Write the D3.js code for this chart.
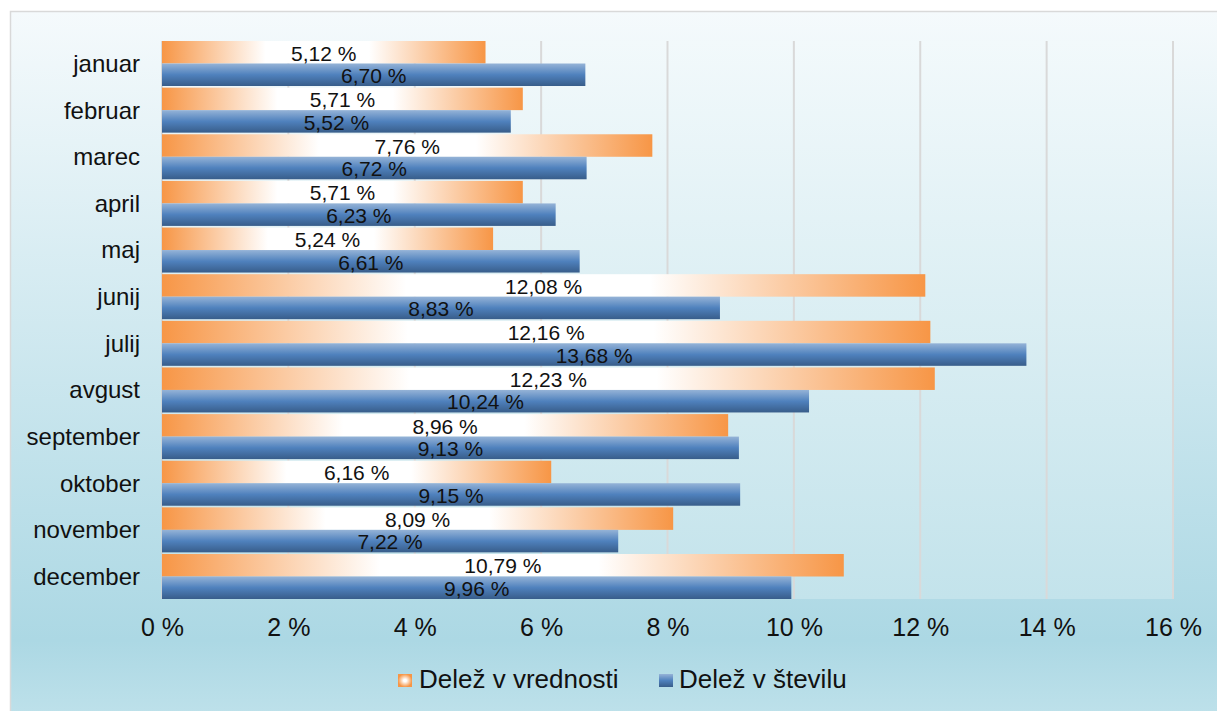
<!DOCTYPE html>
<html>
<head>
<meta charset="utf-8">
<script src="https://cdn.jsdelivr.net/npm/d3@7"></script>
<style>
  html, body { margin: 0; padding: 0; background: #fff; }
  svg { display: block; font-family: "Liberation Sans", Arial, sans-serif; }
</style>
</head>
<body>
<svg id="chart" width="1217" height="711"></svg>
<script>
// months (top to bottom)
const months = ["januar", "februar", "marec", "april", "maj", "junij", "julij",
  "avgust", "september", "oktober", "november", "december"];
// share in value (%)
const valueShare = [5.12, 5.71, 7.76, 5.71, 5.24, 12.08, 12.16, 12.23, 8.96, 6.16, 8.09, 10.79];
// share in count (%)
const countShare = [6.70, 5.52, 6.72, 6.23, 6.61, 8.83, 13.68, 10.24, 9.13, 9.15, 7.22, 9.96];
const ticks = [0, 2, 4, 6, 8, 10, 12, 14, 16];
const seriesNames = ["Delež v vrednosti", "Delež v številu"];

const FONT = "'Liberation Sans', Arial, sans-serif";
const fmt = (v) => v.toFixed(2).replace(".", ",") + " %";

const svg = d3.select("#chart");
const defs = svg.append("defs");

// background gradients
const bg = defs.append("linearGradient").attr("id", "bg")
  .attr("x1", 0).attr("y1", 0).attr("x2", 0).attr("y2", 1);
bg.append("stop").attr("offset", "0%").attr("stop-color", "#f5fafc");
bg.append("stop").attr("offset", "85%").attr("stop-color", "#acd8e4");
bg.append("stop").attr("offset", "100%").attr("stop-color", "#c6e5ed");

const plotBg = defs.append("linearGradient").attr("id", "plotBg")
  .attr("x1", 0).attr("y1", 0).attr("x2", 0).attr("y2", 1);
plotBg.append("stop").attr("offset", "0%").attr("stop-color", "#f2f9fb");
plotBg.append("stop").attr("offset", "100%").attr("stop-color", "#c3e3eb");

// orange: horizontal orange -> white -> orange
const orange = defs.append("linearGradient").attr("id", "orange")
  .attr("x1", 0).attr("y1", 0).attr("x2", 1).attr("y2", 0);
orange.append("stop").attr("offset", "0%").attr("stop-color", "#f79646");
orange.append("stop").attr("offset", "32%").attr("stop-color", "#ffffff");
orange.append("stop").attr("offset", "64%").attr("stop-color", "#ffffff");
orange.append("stop").attr("offset", "100%").attr("stop-color", "#f79646");

// blue: vertical light -> dark
const blue = defs.append("linearGradient").attr("id", "blue")
  .attr("x1", 0).attr("y1", 0).attr("x2", 0).attr("y2", 1);
blue.append("stop").attr("offset", "0%").attr("stop-color", "#95b3d7");
blue.append("stop").attr("offset", "50%").attr("stop-color", "#4f81bd");
blue.append("stop").attr("offset", "100%").attr("stop-color", "#385d8a");

const orangeSwatch = defs.append("radialGradient").attr("id", "orangeSwatch");
orangeSwatch.append("stop").attr("offset", "20%").attr("stop-color", "#ffffff");
orangeSwatch.append("stop").attr("offset", "100%").attr("stop-color", "#f79646");

// chart frame
svg.append("rect")
  .attr("x", 10.5).attr("y", 11.5)
  .attr("width", 1240).attr("height", 740)
  .attr("fill", "url(#bg)")
  .attr("stroke", "#d9d9d9")
  .attr("stroke-width", 1.5);

const margin = { top: 41, left: 162 };
const width = 1173 - 162;
const height = 599 - 41;

const g = svg.append("g")
  .attr("transform", `translate(${margin.left},${margin.top})`);

g.append("rect")
  .attr("width", width).attr("height", height)
  .attr("fill", "url(#plotBg)");

const x = d3.scaleLinear().domain([0, 16]).range([0, width]);
const y = d3.scaleBand().domain(months).range([0, height])
  .paddingInner(0.035).paddingOuter(0.0);
const sub = d3.scaleBand().domain([0, 1]).range([0, y.bandwidth()]);

// gridlines
g.selectAll(".grid")
  .data(ticks.filter((t) => t > 0))
  .enter()
  .append("line")
  .attr("class", "grid")
  .attr("x1", (d) => x(d)).attr("x2", (d) => x(d))
  .attr("y1", 0).attr("y2", height)
  .attr("stroke", "#d9d9d9")
  .attr("stroke-width", 2);

// left axis line
g.append("line")
  .attr("x1", 0).attr("x2", 0).attr("y1", 0).attr("y2", height)
  .attr("stroke", "#d0d0d0").attr("stroke-width", 1.5);

const rows = g.selectAll(".row")
  .data(months)
  .enter()
  .append("g")
  .attr("class", "row")
  .attr("transform", (d) => `translate(0,${y(d)})`);

rows.append("rect")
  .attr("x", 0)
  .attr("y", sub(0))
  .attr("width", (d, i) => x(valueShare[i]))
  .attr("height", sub.bandwidth())
  .attr("fill", "url(#orange)");

rows.append("rect")
  .attr("x", 0)
  .attr("y", sub(1))
  .attr("width", (d, i) => x(countShare[i]))
  .attr("height", sub.bandwidth())
  .attr("fill", "url(#blue)");

// data labels
rows.append("text")
  .attr("x", (d, i) => x(valueShare[i]) / 2)
  .attr("y", sub(0) + sub.bandwidth() - 3)
  .attr("text-anchor", "middle")
  .attr("font-size", "21px")
  .attr("fill", "#111")
  .text((d, i) => fmt(valueShare[i]));

rows.append("text")
  .attr("x", (d, i) => x(countShare[i]) / 2)
  .attr("y", sub(1) + sub.bandwidth() - 3)
  .attr("text-anchor", "middle")
  .attr("font-size", "21px")
  .attr("fill", "#111")
  .text((d, i) => fmt(countShare[i]));

// category labels
g.append("g")
  .call(d3.axisLeft(y).tickSize(0).tickPadding(22))
  .call((a) => a.select(".domain").remove())
  .selectAll("text")
  .attr("font-size", "24px")
  .attr("font-family", FONT)
  .attr("fill", "#111")
  .attr("dy", "0.35em");

// x axis labels
g.append("g")
  .attr("transform", `translate(0,${height})`)
  .call(d3.axisBottom(x).tickValues(ticks).tickSize(0).tickPadding(19)
    .tickFormat((d) => d + " %"))
  .call((a) => a.select(".domain").remove())
  .selectAll("text")
  .attr("font-size", "25px")
  .attr("font-family", FONT)
  .attr("fill", "#111");

// legend
const legend = svg.append("g").attr("transform", "translate(398,674)");
legend.append("rect")
  .attr("x", 0).attr("y", 0).attr("width", 14).attr("height", 13)
  .attr("fill", "url(#orangeSwatch)");
legend.append("text")
  .attr("x", 21).attr("y", 14)
  .attr("font-size", "26px").attr("fill", "#111")
  .text(seriesNames[0]);
legend.append("rect")
  .attr("x", 261).attr("y", 0).attr("width", 14).attr("height", 13)
  .attr("fill", "url(#blue)");
legend.append("text")
  .attr("x", 281).attr("y", 14)
  .attr("font-size", "26px").attr("fill", "#111")
  .text(seriesNames[1]);
</script>
</body>
</html>
